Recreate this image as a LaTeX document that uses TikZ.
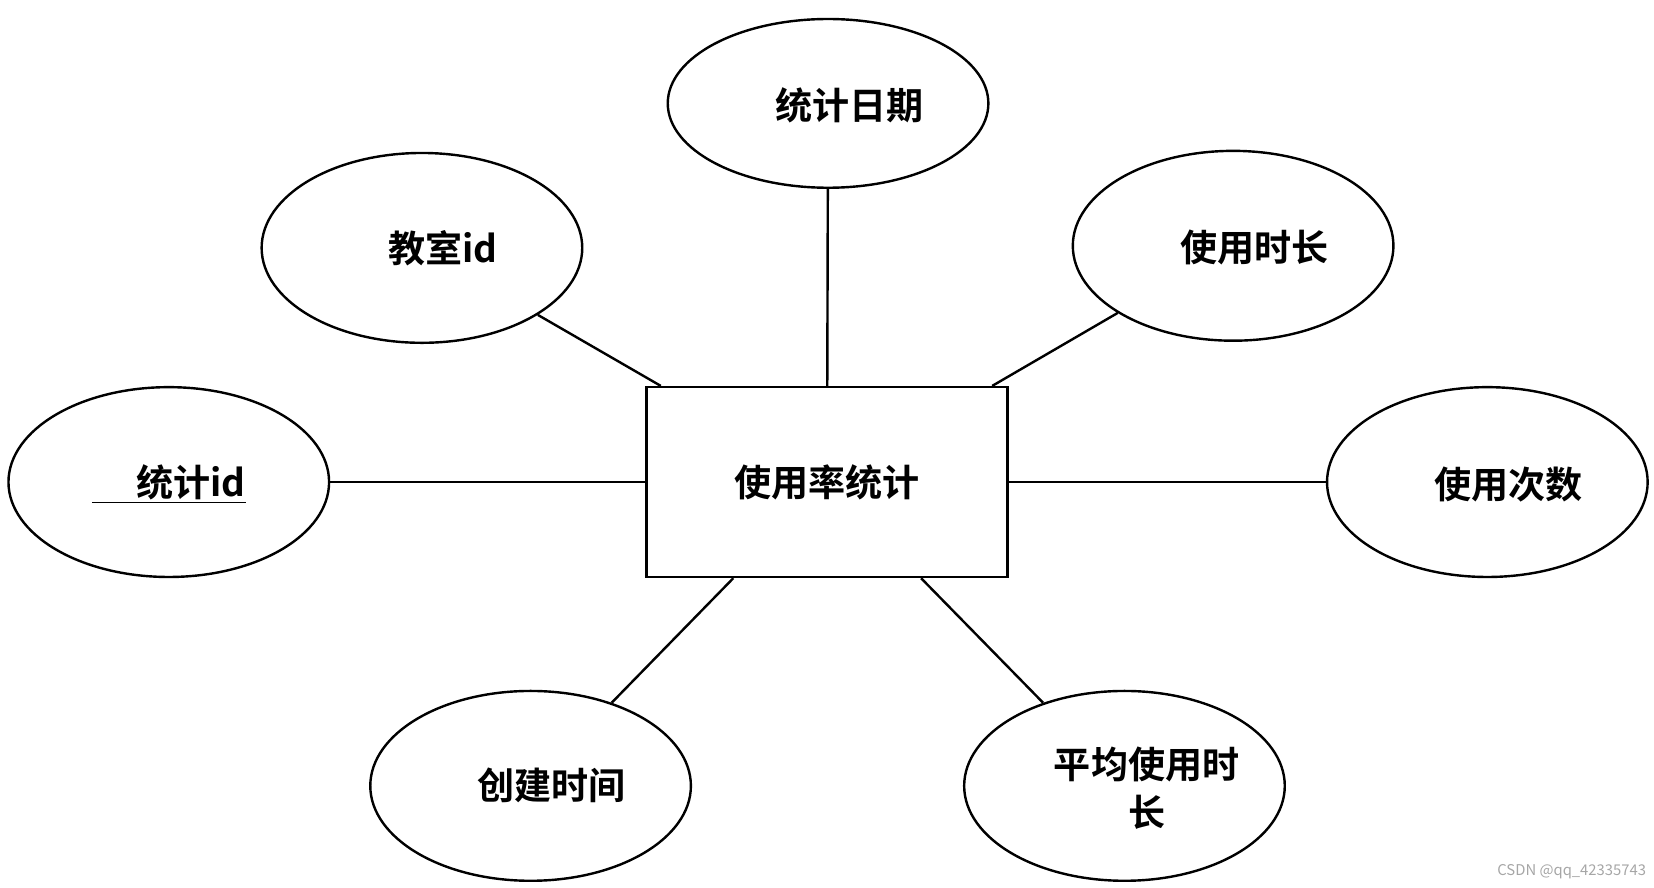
\documentclass[tikz,border=0pt]{standalone}
\usepackage{fontspec}
\newfontfamily\cjk{Noto Sans CJK SC}[BoldFont={Noto Sans CJK SC Bold}]
\usetikzlibrary{shapes.geometric}
\begin{document}
\begin{tikzpicture}[x=0.02cm,y=-0.02cm,
  attr/.style={draw,line width=1.3pt,ellipse,minimum width=6.08cm,minimum height=3.6cm,inner sep=0pt},
  ent/.style={draw,line width=1.3pt,minimum width=6.84cm,minimum height=3.6cm,inner sep=0pt},
  lbl/.style={font=\cjk\bfseries\fontsize{20}{26}\selectfont,align=center},
  conn/.style={line width=1.3pt}]
\useasboundingbox (0,0) rectangle (1568,841);
\node[ent] (e) at (784,457) {};
\node[lbl] (et) at (784,457) {使用率统计};
\node[attr,minimum height=3.2cm] (a1) at (785,98) {};
\node[lbl] at (805,100) {统计日期};
\node[attr] (a2) at (400,235) {};
\node[lbl] at (420,235) {教室id};
\node[attr] (a3) at (1169,233) {};
\node[lbl] at (1189,235) {使用时长};
\node[attr] (a4) at (160,457) {};
\node[lbl] at (160,459) {\underline{\hspace{1.2em}统计id}};
\node[attr] (a5) at (1410,457) {};
\node[lbl] at (1430,459) {使用次数};
\node[attr] (a6) at (503,745) {};
\node[lbl] at (523,745) {创建时间};
\node[attr] (a7) at (1066,745) {};
\node[lbl] at (1087,747) {平均使用时\\长};
\draw[conn] (e) -- (a1);
\draw[conn] (e) -- (a2);
\draw[conn] (e) -- (a3);
\draw[conn] (e) -- (a4);
\draw[conn] (e) -- (a5);
\draw[conn] (e) -- (a6);
\draw[conn] (e) -- (a7);
\node[font=\cjk\fontsize{8}{10}\selectfont,text=gray!70] (wm) at (1490,826) {CSDN @qq\_42335743};
\end{tikzpicture}
\end{document}
